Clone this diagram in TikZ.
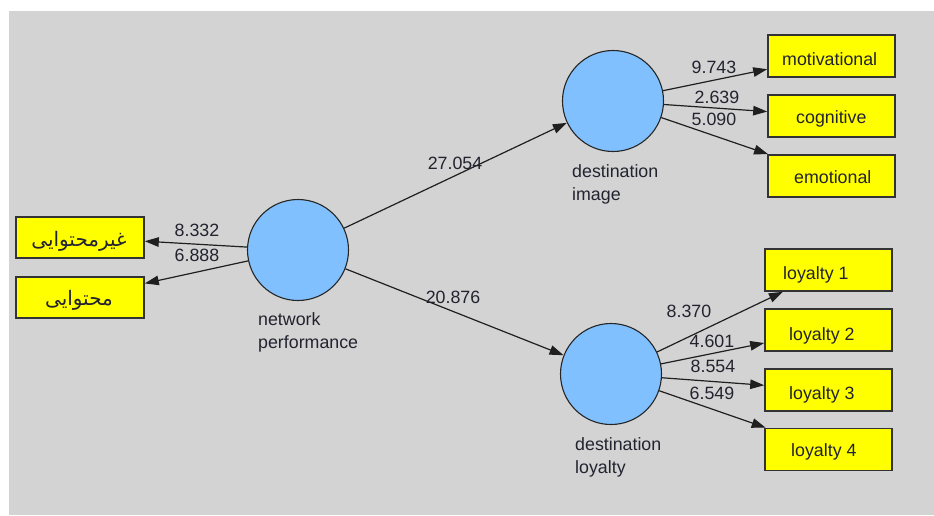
\documentclass[tikz,border=0pt]{standalone}
\usepackage{fontspec}
\setmainfont{Liberation Sans}
\newfontfamily\arabicfont[Script=Arabic]{DejaVu Sans}
\TeXXeTstate=1
\usetikzlibrary{arrows.meta}

\definecolor{canvas}{RGB}{211,211,211}
\definecolor{latent}{RGB}{128,192,255}
\definecolor{indic}{RGB}{255,255,0}
\definecolor{ink}{RGB}{35,35,48}

% two left-aligned lines whose baseline is that of the first line
\newcommand{\stacklines}[2]{\vtop{\baselineskip=23.5pt\hbox{#1}\hbox{#2}}}

\begin{document}
\begin{tikzpicture}[x=1pt,y=-1pt,
  latentnode/.style={circle, draw=black!85, line width=1.1pt, fill=latent,
                     minimum size=101pt, inner sep=0pt},
  indicbox/.style={rectangle, draw=black!80, line width=1.6pt, fill=indic,
                   minimum width=127pt, minimum height=41pt, inner sep=0pt},
  wtext/.style={font=\fontsize{17.8}{21}\selectfont, text=ink, inner sep=0pt},
  coef/.style={wtext, anchor=base},
  boxtext/.style={wtext, anchor=base west},
  fatext/.style={font=\fontsize{20}{24}\selectfont\arabicfont, text=ink, inner sep=0pt},
  link/.style={draw=black!88, line width=1.2pt, -{Triangle[length=14pt,width=9.5pt]}}]

\useasboundingbox (0,0) rectangle (934,515);
\fill[canvas] (9,11) rectangle (934,515);

% latent variables
\node[latentnode] (np) at (298,250) {};
\node[latentnode] (di) at (613,101) {};
\node[latentnode] (dl) at (611,374) {};

\node[wtext, anchor=base west] (npl) at (258,325) {\stacklines{network}{performance}};
\node[wtext, anchor=base west] (dil) at (572,177) {\stacklines{destination}{image}};
\node[wtext, anchor=base west] (dll) at (575,450) {\stacklines{destination}{loyalty}};

% indicators of network performance
\node[indicbox, minimum width=128pt] (ghm) at (80,237.5) {};
\node[indicbox, minimum width=128pt] (mht) at (80,297.5) {};
\node[fatext] (ghmt) at (79,241) {\beginR غیرمحتوایی\endR};
\node[fatext] (mhtt) at (79,300) {\beginR محتوایی\endR};

% indicators of destination image
\node[indicbox, minimum height=42pt] (mot) at (831.5,56) {};
\node[indicbox, minimum height=42pt] (cog) at (831.5,116) {};
\node[indicbox, minimum height=42pt] (emo) at (831.5,176) {};
\node[boxtext] (mott) at (782,65) {motivational};
\node[boxtext] (cogt) at (796,123) {cognitive};
\node[boxtext] (emot) at (794,183) {emotional};

% indicators of destination loyalty
\node[indicbox, minimum height=42pt] (l1) at (828.5,270) {};
\node[indicbox, minimum height=42pt] (l2) at (828.5,330) {};
\node[indicbox, minimum height=42pt] (l3) at (828.5,390) {};
\node[indicbox, minimum height=42pt] (l4) at (828.5,449.5) {};
\node[boxtext] (l1t) at (783,279) {loyalty 1};
\node[boxtext] (l2t) at (789,340) {loyalty 2};
\node[boxtext] (l3t) at (789,399) {loyalty 3};
\node[boxtext] (l4t) at (791,456) {loyalty 4};

% paths
\draw[link] (np) -- (ghm);
\draw[link] (np) -- (mht);
\draw[link] (np) -- (di);
\draw[link] (np) -- (dl);
\draw[link] (di) -- (mot);
\draw[link] (di) -- (cog);
\draw[link] (di) -- (emo);
\draw[link] (dl) -- (l1);
\draw[link] (dl) -- (l2);
\draw[link] (dl) -- (l3);
\draw[link] (dl) -- (l4);

% path coefficients
\node[coef] (c1) at (197,236) {8.332};
\node[coef] (c2) at (197,261) {6.888};
\node[coef] (c3) at (455,169) {27.054};
\node[coef] (c4) at (453,303) {20.876};
\node[coef] (c5) at (714,73) {9.743};
\node[coef] (c6) at (717,103) {2.639};
\node[coef] (c7) at (714,125) {5.090};
\node[coef] (c8) at (689,317) {8.370};
\node[coef] (c9) at (712,347) {4.601};
\node[coef] (c10) at (713,372) {8.554};
\node[coef] (c11) at (712,399) {6.549};

\end{tikzpicture}
\end{document}
